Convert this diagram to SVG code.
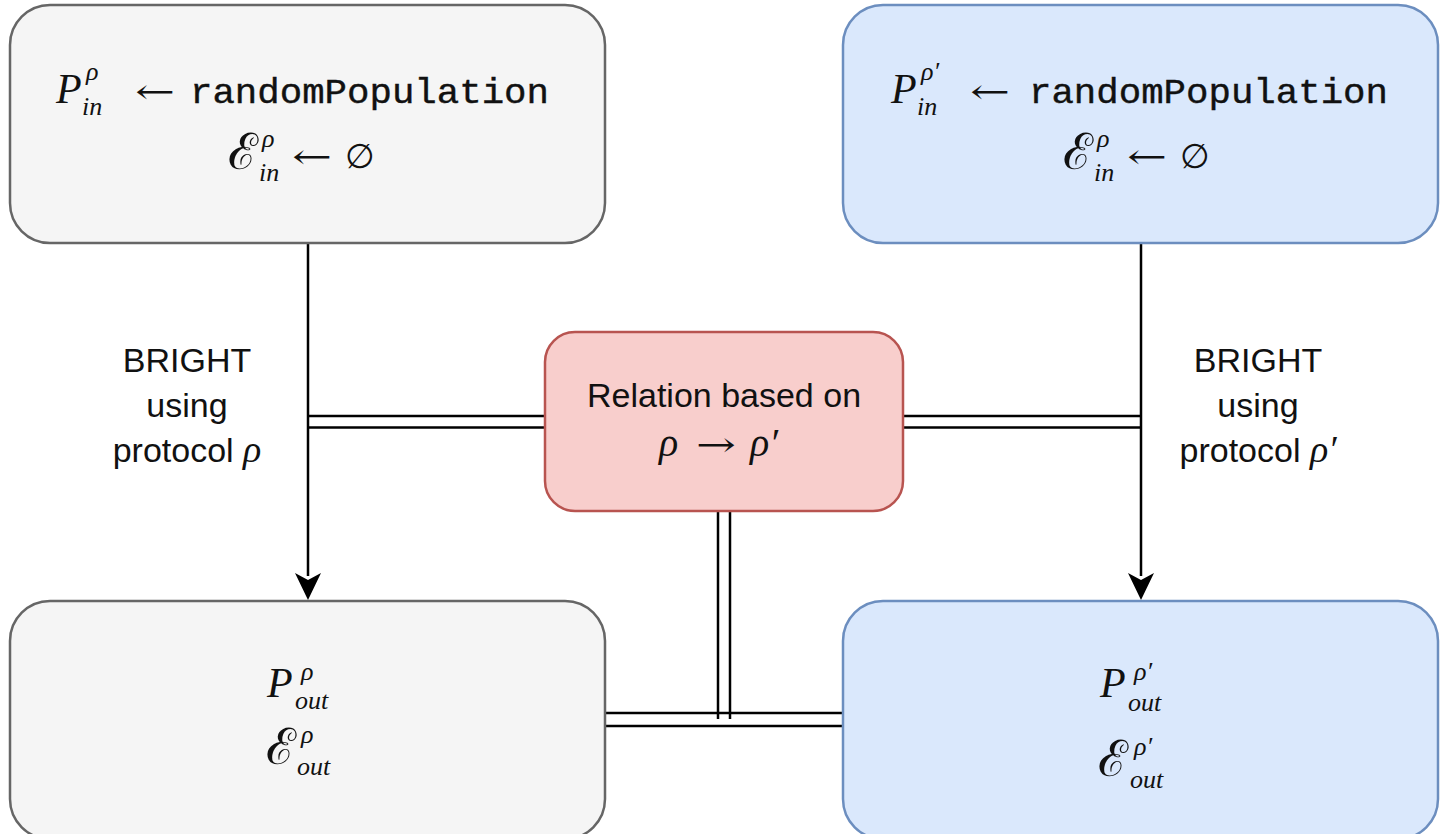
<svg xmlns="http://www.w3.org/2000/svg" width="1448" height="834" viewBox="0 0 1448 834">
  <style>
    .grey { fill: #f5f5f5; stroke: #666666; stroke-width: 2.5; }
    .blue { fill: #dae8fc; stroke: #6c8ebf; stroke-width: 2.5; }
    .red { fill: #f8cecc; stroke: #b85450; stroke-width: 2.5; }
    .m { font-family: "Liberation Serif", "DejaVu Serif", serif; font-style: italic; fill: #111; }
    .big { font-size: 42px; }
    .sm { font-size: 26px; }
    .sym { font-family: "DejaVu Serif", serif; font-style: normal; font-size: 34px; fill: #111; }
    .scr { font-family: "DejaVu Serif", serif; font-style: normal; font-size: 50px; fill: #111; }
    .tt { font-family: "Liberation Mono", "DejaVu Sans Mono", monospace; font-size: 35px; fill: #111; stroke: #111; stroke-width: 0.4; }
    .lbl { font-family: "Liberation Sans", Arial, sans-serif; font-size: 34px; fill: #111; text-anchor: middle; }
    .wire { stroke: #000; stroke-width: 2.5; fill: none; }
  </style>

  <rect width="1448" height="834" fill="#ffffff"/>

  <g id="connectors">
    <!-- protocol runs -->
    <line class="wire" x1="308" y1="243" x2="308" y2="576"/>
    <path d="M308,600 L295,573 L308,580 L321,573 Z" fill="#000"/>
    <line class="wire" x1="1141" y1="243" x2="1141" y2="576"/>
    <path d="M1141,600 L1128,573 L1141,580 L1154,573 Z" fill="#000"/>
    <!-- relation links (double lines) -->
    <line class="wire" x1="308" y1="416" x2="545" y2="416"/>
    <line class="wire" x1="308" y1="427.5" x2="545" y2="427.5"/>
    <line class="wire" x1="903" y1="416" x2="1141" y2="416"/>
    <line class="wire" x1="903" y1="427.5" x2="1141" y2="427.5"/>
    <line class="wire" x1="718" y1="511" x2="718" y2="719"/>
    <line class="wire" x1="730" y1="511" x2="730" y2="719"/>
    <line class="wire" x1="605" y1="713" x2="843" y2="713"/>
    <line class="wire" x1="605" y1="726" x2="843" y2="726"/>
  </g>

  <g id="init-rho">
    <rect class="grey" x="10" y="5" width="595" height="238" rx="40"/>
    <text class="m big" x="56" y="103">P</text>
    <text class="m sm" x="86" y="80">ρ</text>
    <text class="m sm" x="82" y="115">in</text>
    <text class="sym" x="135" y="103" textLength="40" lengthAdjust="spacingAndGlyphs">←</text>
    <text class="tt" x="190" y="103" textLength="359" lengthAdjust="spacingAndGlyphs">randomPopulation</text>
    <text class="scr" x="228" y="169">ℰ</text>
    <text class="m sm" x="262" y="147">ρ</text>
    <text class="m sm" x="259" y="181">in</text>
    <text class="sym" x="292" y="168" textLength="40" lengthAdjust="spacingAndGlyphs">←</text>
    <text class="sym" x="345" y="168" font-size="36">∅</text>
  </g>

  <g id="init-rho-prime">
    <rect class="blue" x="843" y="5" width="595" height="238" rx="40"/>
    <text class="m big" x="891" y="103">P</text>
    <text class="m sm" x="921" y="80">ρ′</text>
    <text class="m sm" x="917" y="115">in</text>
    <text class="sym" x="970" y="103" textLength="40" lengthAdjust="spacingAndGlyphs">←</text>
    <text class="tt" x="1029" y="103" textLength="359" lengthAdjust="spacingAndGlyphs">randomPopulation</text>
    <text class="scr" x="1063" y="169">ℰ</text>
    <text class="m sm" x="1097" y="147">ρ</text>
    <text class="m sm" x="1094" y="181">in</text>
    <text class="sym" x="1127" y="168" textLength="40" lengthAdjust="spacingAndGlyphs">←</text>
    <text class="sym" x="1180" y="168" font-size="36">∅</text>
  </g>

  <g id="relation">
    <rect class="red" x="545" y="332" width="358" height="179" rx="30"/>
    <text class="lbl" x="724" y="407">Relation based on</text>
    <text class="m" x="659" y="456" font-size="40">ρ</text>
    <text class="sym" x="696" y="456" textLength="40" lengthAdjust="spacingAndGlyphs">→</text>
    <text class="m" x="750" y="456" font-size="40">ρ′</text>
  </g>

  <g id="label-rho">
    <text class="lbl" x="187" y="372">BRIGHT</text>
    <text class="lbl" x="187" y="417">using</text>
    <text class="lbl" x="187" y="462">protocol <tspan class="m" font-size="38">ρ</tspan></text>
  </g>

  <g id="label-rho-prime">
    <text class="lbl" x="1258" y="372">BRIGHT</text>
    <text class="lbl" x="1258" y="417">using</text>
    <text class="lbl" x="1258" y="462">protocol <tspan class="m" font-size="38">ρ′</tspan></text>
  </g>

  <g id="out-rho">
    <rect class="grey" x="10" y="601" width="595" height="238" rx="40"/>
    <text class="m big" x="267" y="697">P</text>
    <text class="m sm" x="301" y="680">ρ</text>
    <text class="m sm" x="295" y="709">out</text>
    <text class="scr" x="266" y="764">ℰ</text>
    <text class="m sm" x="301" y="743">ρ</text>
    <text class="m sm" x="297" y="775">out</text>
  </g>

  <g id="out-rho-prime">
    <rect class="blue" x="843" y="601" width="595" height="238" rx="40"/>
    <text class="m big" x="1100" y="697">P</text>
    <text class="m sm" x="1134" y="680">ρ′</text>
    <text class="m sm" x="1128" y="711">out</text>
    <text class="scr" x="1098" y="776">ℰ</text>
    <text class="m sm" x="1134" y="755">ρ′</text>
    <text class="m sm" x="1130" y="788">out</text>
  </g>
</svg>
